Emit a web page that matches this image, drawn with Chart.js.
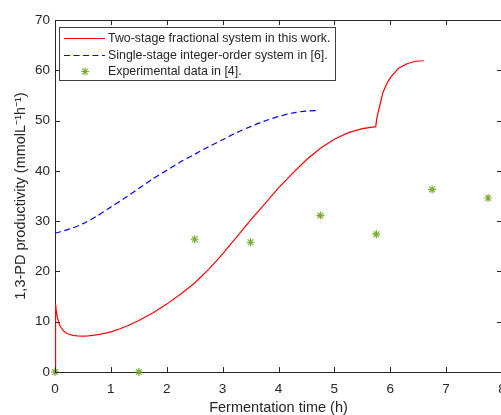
<!DOCTYPE html>
<html>
<head>
<meta charset="utf-8">
<script src="https://cdn.jsdelivr.net/npm/chart.js@4/dist/chart.umd.min.js"></script>
<style>
  html, body { margin: 0; padding: 0; overflow: hidden; background: #fff; }
  canvas { display: block; }
</style>
</head>
<body>
<canvas id="prodChart" width="520" height="415"></canvas>
<script>
// Two-stage fractional model (red)
const redT = [0, 0.01, 0.02, 0.04, 0.06, 0.08, 0.11, 0.15, 0.2, 0.25, 0.32, 0.4, 0.5, 0.6, 0.7, 0.8, 0.9, 1.0, 1.15, 1.3, 1.5, 1.75, 2.0, 2.25, 2.5, 2.75, 3.0, 3.25, 3.5, 3.75, 4.0, 4.25, 4.5, 4.75, 5.0, 5.25, 5.5, 5.74, 5.76, 5.8, 5.87, 5.95, 6.0, 6.05, 6.15, 6.3, 6.45, 6.6];
const redV = [0, 13.5, 12.4, 11.0, 10.1, 9.4, 8.8, 8.2, 7.75, 7.5, 7.3, 7.18, 7.15, 7.2, 7.32, 7.5, 7.72, 7.98, 8.55, 9.2, 10.25, 11.75, 13.5, 15.5, 17.7, 20.4, 23.5, 26.8, 30.2, 33.4, 36.6, 39.5, 42.2, 44.5, 46.3, 47.6, 48.4, 48.8, 50.5, 52.4, 55.6, 57.6, 58.5, 59.2, 60.4, 61.3, 61.8, 61.9];

// Single-stage integer-order model (blue dashed)
const blueT = [0, 0.25, 0.5, 0.75, 1.0, 1.25, 1.5, 1.75, 2.0, 2.25, 2.5, 2.75, 3.0, 3.25, 3.5, 3.75, 4.0, 4.25, 4.5, 4.7];
const blueV = [27.6, 28.4, 29.5, 31.0, 32.8, 34.6, 36.5, 38.4, 40.1, 41.8, 43.3, 44.8, 46.2, 47.6, 48.8, 49.9, 50.8, 51.5, 51.9, 52.0];

// Experimental data (green asterisks)
const expT = [0, 1.5, 2.5, 3.5, 4.75, 5.75, 6.75, 7.75];
const expV = [0, 0, 26.4, 25.8, 31.1, 27.4, 36.3, 34.6];

const xTicks = [0, 1, 2, 3, 4, 5, 6, 7, 8];
const yTicks = [0, 10, 20, 30, 40, 50, 60, 70];

const seriesNames = [
  'Two-stage fractional system in this work.',
  'Single-stage integer-order system in [6].',
  'Experimental data in [4].'
];

const axisColor = '#262626';
const fontFamily = '"Liberation Sans", Arial, Helvetica, sans-serif';

function toPoints(xs, ys) {
  return xs.map(function(x, i) { return { x: x, y: ys[i] }; });
}

// inner tick marks, top border and boxed legend, MATLAB style
const matlabAxes = {
  id: 'matlabAxes',
  afterDraw: function(chart) {
    const ctx = chart.ctx;
    const area = chart.chartArea;
    const xs = chart.scales.x;
    const ys = chart.scales.y;
    const len = 5;

    ctx.save();
    ctx.strokeStyle = axisColor;
    ctx.lineWidth = 1;
    ctx.beginPath();
    ctx.moveTo(area.left, area.top + 0.5);
    ctx.lineTo(area.right, area.top + 0.5);
    ctx.moveTo(area.right - 0.5, area.top);
    ctx.lineTo(area.right - 0.5, area.bottom);
    xTicks.forEach(function(v) {
      const px = Math.round(xs.getPixelForValue(v)) + 0.5;
      ctx.moveTo(px, area.bottom);
      ctx.lineTo(px, area.bottom - len);
      ctx.moveTo(px, area.top);
      ctx.lineTo(px, area.top + len);
    });
    yTicks.forEach(function(v) {
      const py = Math.round(ys.getPixelForValue(v)) + 0.5;
      ctx.moveTo(area.left, py);
      ctx.lineTo(area.left + len, py);
      ctx.moveTo(area.right, py);
      ctx.lineTo(area.right - len, py);
    });
    ctx.stroke();

    // legend
    const lx = 59.5, ly = 27.5, lw = 276, lh = 53;
    ctx.fillStyle = '#fff';
    ctx.fillRect(lx, ly, lw, lh);
    ctx.strokeStyle = '#404040';
    ctx.strokeRect(lx, ly, lw, lh);

    const rows = [38, 55, 71];
    ctx.font = '12.4px ' + fontFamily;
    ctx.textBaseline = 'middle';
    ctx.textAlign = 'left';
    chart.data.datasets.forEach(function(ds, i) {
      const y = rows[i] + 0.5;
      if (i < 2) {
        ctx.beginPath();
        ctx.strokeStyle = ds.borderColor;
        ctx.lineWidth = ds.borderWidth;
        ctx.setLineDash(ds.borderDash || []);
        ctx.moveTo(64, y);
        ctx.lineTo(105, y);
        ctx.stroke();
        ctx.setLineDash([]);
      } else {
        const r = ds.pointRadius;
        const d = r * 0.7071;
        ctx.strokeStyle = ds.pointBorderColor;
        ctx.lineWidth = ds.pointBorderWidth;
        ctx.beginPath();
        ctx.moveTo(85 - r, y); ctx.lineTo(85 + r, y);
        ctx.moveTo(85, y - r); ctx.lineTo(85, y + r);
        ctx.moveTo(85 - d, y - d); ctx.lineTo(85 + d, y + d);
        ctx.moveTo(85 - d, y + d); ctx.lineTo(85 + d, y - d);
        ctx.stroke();
      }
      ctx.fillStyle = axisColor;
      ctx.fillText(ds.label, 108, y);
    });
    ctx.restore();
  }
};

new Chart(document.getElementById('prodChart'), {
  type: 'line',
  data: {
    datasets: [{
      label: seriesNames[0],
      data: toPoints(redT, redV),
      borderColor: '#ff0000',
      borderWidth: 1.2,
      pointRadius: 0,
      tension: 0,
      fill: false
    }, {
      label: seriesNames[1],
      data: toPoints(blueT, blueV),
      borderColor: '#0000ff',
      borderWidth: 1.2,
      borderDash: [6, 3.5],
      pointRadius: 0,
      tension: 0.3,
      fill: false
    }, {
      label: seriesNames[2],
      data: toPoints(expT, expV),
      showLine: false,
      clip: false,
      pointStyle: 'star',
      pointRadius: 4,
      pointBorderColor: '#77ac30',
      pointBackgroundColor: '#77ac30',
      pointBorderWidth: 1.2,
      borderColor: '#77ac30'
    }]
  },
  options: {
    responsive: false,
    animation: false,
    events: [],
    layout: {
      padding: { left: 0, right: 18, top: 20, bottom: 0 }
    },
    plugins: {
      legend: { display: false },
      tooltip: { enabled: false }
    },
    scales: {
      x: {
        type: 'linear',
        min: 0,
        max: 8,
        afterFit: function(scale) { scale.height = 43; },
        afterBuildTicks: function(scale) {
          scale.ticks = xTicks.map(function(v) { return { value: v }; });
        },
        grid: { display: false, drawTicks: false },
        border: { display: true, color: axisColor, width: 1 },
        ticks: {
          color: axisColor,
          padding: 9,
          font: { family: fontFamily, size: 13.5 },
          maxRotation: 0
        },
        title: {
          display: true,
          text: 'Fermentation time (h)',
          color: axisColor,
          font: { family: fontFamily, size: 14.5 },
          padding: { top: 0, bottom: -2 }
        }
      },
      y: {
        type: 'linear',
        min: 0,
        max: 70,
        afterFit: function(scale) { scale.width = 55; },
        afterBuildTicks: function(scale) {
          scale.ticks = yTicks.map(function(v) { return { value: v }; });
        },
        grid: { display: false, drawTicks: false },
        border: { display: true, color: axisColor, width: 1 },
        ticks: {
          color: axisColor,
          padding: 5,
          font: { family: fontFamily, size: 13.5 }
        },
        title: {
          display: true,
          text: '1,3-PD productivity (mmolL\u207B\u00B9h\u207B\u00B9)',
          color: axisColor,
          font: { family: fontFamily, size: 14.5 },
          padding: { top: 12, bottom: 0 }
        }
      }
    }
  },
  plugins: [matlabAxes]
});
</script>
</body>
</html>
